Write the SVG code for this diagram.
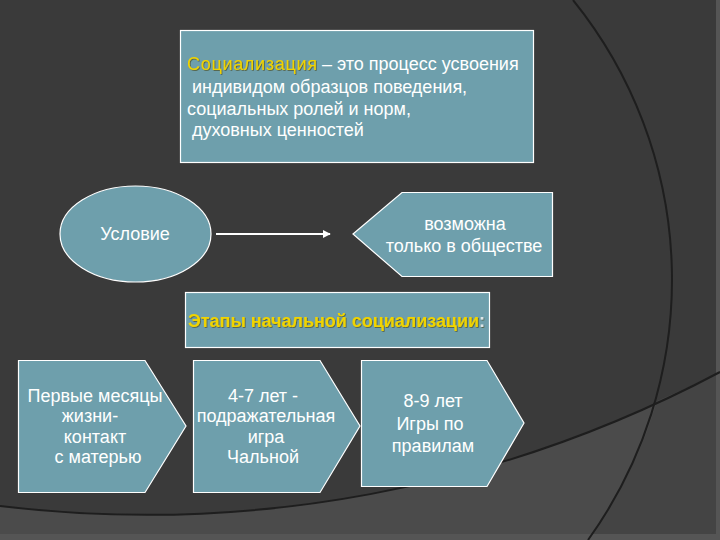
<svg xmlns="http://www.w3.org/2000/svg" width="720" height="540" viewBox="0 0 720 540">
<defs>
<style>
.box{fill:#6e9fac;stroke:#ffffff;stroke-width:1.2}
.t{font-family:"Liberation Sans",Arial,sans-serif;font-size:18px;fill:#ffffff}
.c{text-anchor:middle}
.y{fill:#f0d400;filter:url(#sh)}
.b{font-weight:bold}
.arc{fill:none;stroke:#1e1e1e;stroke-width:2}
</style>
<filter id="sh" x="-5%" y="-20%" width="110%" height="140%">
<feDropShadow dx="0.8" dy="0.8" stdDeviation="0.6" flood-color="#4a4a20" flood-opacity="0.8"/>
</filter>
<marker id="ah" viewBox="0 0 10 10" refX="9" refY="5" markerWidth="4" markerHeight="4" orient="auto" markerUnits="strokeWidth">
<path d="M0,0 L10,5 L0,10 Z" fill="#ffffff"/>
</marker>
</defs>
<g id="background">
<rect x="0" y="0" width="720" height="540" fill="#3a3a3a"/>
<path d="M0,506 A1224,1224 0 0 0 720,372 L720,540 L0,540 Z" fill="#4b4b4b"/>
<path d="M588,540 A445,445 0 0 0 657,401 A1224,1224 0 0 0 720,372 L720,540 Z" fill="#444444"/>
<rect x="0" y="534" width="720" height="6" fill="#555555"/>
<rect x="716" y="0" width="4" height="540" fill="#555555"/>
<path class="arc" d="M573,0 A445,445 0 0 1 588,540"/>
<path class="arc" d="M0,506 A1224,1224 0 0 0 720,372"/>
</g>
<g id="connectors">
<line x1="216" y1="234" x2="330" y2="234" stroke="#ffffff" stroke-width="2" marker-end="url(#ah)"/>
</g>
<g id="definition">
<rect class="box" x="180.5" y="30.5" width="353" height="132"/>
<text class="t y" x="187" y="70" textLength="130">Социализация</text>
<text class="t" x="322" y="70">– это процесс усвоения</text>
<text class="t" x="192" y="93">индивидом образцов поведения,</text>
<text class="t" x="187" y="115">социальных ролей и норм,</text>
<text class="t" x="192" y="136">духовных ценностей</text>
</g>
<g id="condition">
<ellipse class="box" cx="135.5" cy="234" rx="75.5" ry="48"/>
<text class="t c" x="135" y="240">Условие</text>
</g>
<g id="society">
<path class="box" d="M353,234 L402,192.5 L552.5,192.5 L552.5,276.5 L402,276.5 Z"/>
<text class="t c" x="465" y="230">возможна</text>
<text class="t c" x="464" y="252">только в обществе</text>
</g>
<g id="stages">
<rect class="box" x="185.5" y="292.5" width="304" height="55"/>
<text class="t y b" x="188" y="327" textLength="297">Этапы начальной социализации<tspan fill="#dde6e8">:</tspan></text>
</g>
<g id="stage1">
<path class="box" d="M18.5,360.5 L145,360.5 L186,426 L145,492.5 L18.5,492.5 Z"/>
<text class="t c" x="95" y="402">Первые месяцы</text>
<text class="t c" x="90" y="422">жизни-</text>
<text class="t c" x="95" y="443">контакт</text>
<text class="t c" x="98" y="463">с матерью</text>
</g>
<g id="stage2">
<path class="box" d="M193.5,360.5 L320,360.5 L360,426 L320,492.5 L193.5,492.5 Z"/>
<text class="t c" x="263" y="402">4-7 лет -</text>
<text class="t c" x="266" y="422">подражательная</text>
<text class="t c" x="266" y="443">игра</text>
<text class="t c" x="263" y="463">Чальной</text>
</g>
<g id="stage3">
<path class="box" d="M361.5,360.5 L487,360.5 L524,423 L487,486.5 L361.5,486.5 Z"/>
<text class="t c" x="433" y="407">8-9 лет</text>
<text class="t c" x="430" y="430">Игры по</text>
<text class="t c" x="433" y="452">правилам</text>
</g>
</svg>
